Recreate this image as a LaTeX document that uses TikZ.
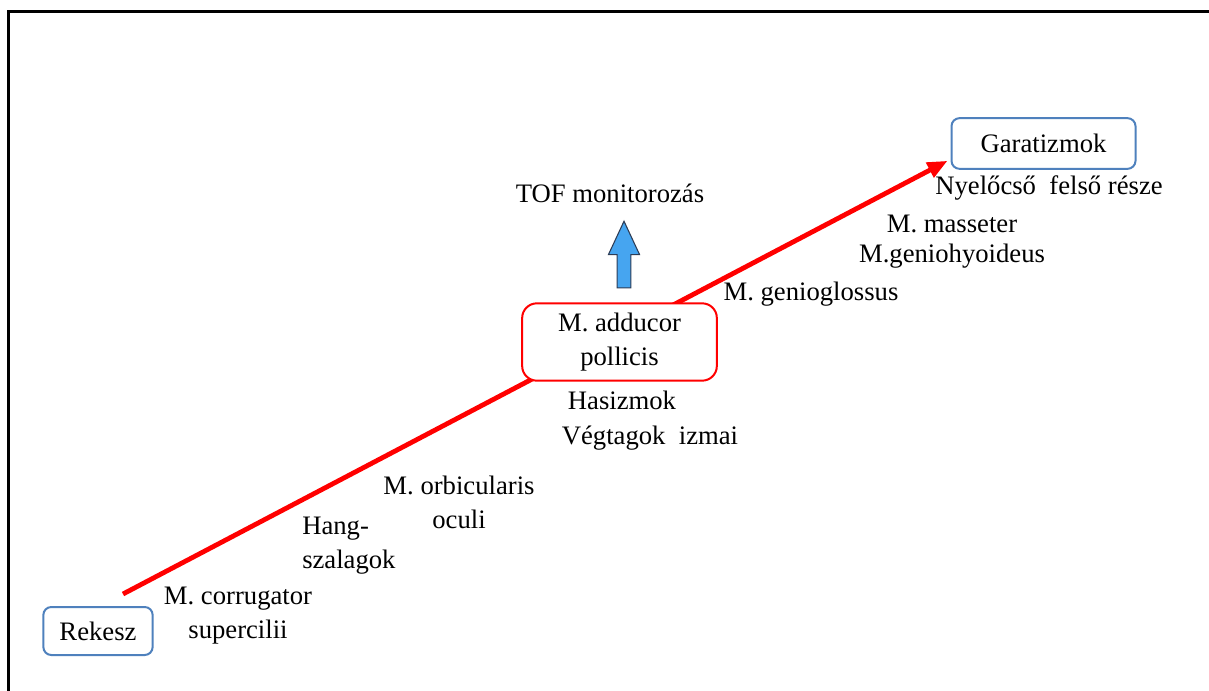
\documentclass[tikz,border=0pt]{standalone}
\usepackage{fontspec}
\setmainfont{Liberation Serif}
\usetikzlibrary{arrows.meta,shapes.arrows}
\definecolor{boxblue}{RGB}{79,129,189}
\definecolor{arrowblue}{RGB}{70,165,240}
\definecolor{arrowedge}{RGB}{45,60,85}

\begin{document}
\begin{tikzpicture}[x = 0.75pt, y = -0.75pt,
    every node/.style = {font = \fontsize{20}{25.5}\selectfont, align = center, inner sep = 0pt},
    endbox/.style = {draw = boxblue, line width = 1.5pt, rounded corners = 6pt, fill = white},
    midbox/.style = {draw = red, line width = 1.5pt, rounded corners = 11pt, fill = white}]
    \useasboundingbox (0,0) rectangle (1209,691);
    % frame
    \draw[line width = 2.6pt] (8.5,691) -- (8.5,11.5) -- (1209,11.5);

    \node[endbox, minimum width = 82pt, minimum height = 36pt] (rekesz) at (98,631) {Rekesz};
    \node[endbox, minimum width = 138pt, minimum height = 38pt] (garat) at (1043.5,143.5) {Garatizmok};

    \coordinate (lo) at (123,594);
    \coordinate (hi) at ([shift = {(-3,-9)}]garat.south west);
    \draw[red, line width = 3.6pt,
        -{Triangle[length = 15pt, width = 12pt]}] (lo) -- (hi);

    \node[midbox, minimum width = 146pt, minimum height = 58pt] (adducor) at (619.5,342) {M. adducor\\pollicis};

    % TOF
    \node (tof) at (610,193) {TOF monitorozás};
    \node[draw = arrowedge, fill = arrowblue, line width = 0.8pt, shape = single arrow, rotate = 90,
        inner sep = 4.8pt, single arrow head extend = 6.5pt, single arrow tip angle = 50,
        minimum height = 50pt] (tofarrow) at (624,262) {};

    % upper muscles
    \node (nyelo) at (1049,188) {Nyelőcső\ \ felső része};
    \node (masseter) at (952,224) {M. masseter};
    \node (geniohy) at (952,256) {M.geniohyoideus};
    \node (geniogl) at (811,294) {M. genioglossus};

    % lower muscles
    \node (hasizmok) at (622,400) {Hasizmok};
    \node (vegtag) at (650,438) {Végtagok\ \ izmai};
    \node (orbic) at (459,502) {M. orbicularis\\oculi};
    \node[align = left, anchor = west] (hang) at (302,546) {Hang-\\szalagok};
    \node (corrug) at (238,615.5) {M. corrugator\\supercilii};
\end{tikzpicture}
\end{document}
